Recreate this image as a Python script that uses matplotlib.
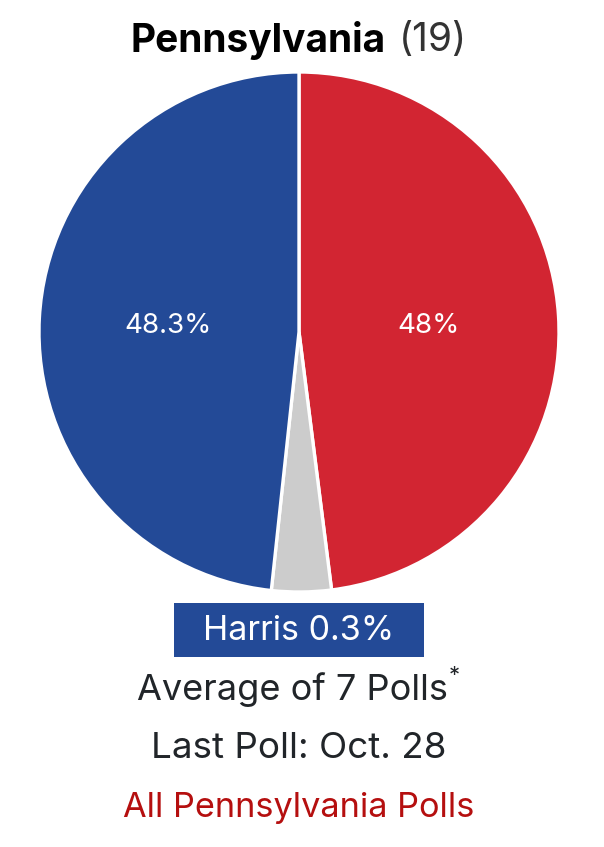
import matplotlib.pyplot as plt
from matplotlib.patches import Rectangle

# poll average shares (%), drawn clockwise from 12 o'clock
candidates = ["Trump", "Other", "Harris"]
shares = [48.0, 3.7, 48.3]
colors = ["#d22532", "#cccccc", "#234a97"]
labels = ["48%", "", "48.3%"]

state = "Pennsylvania"
electoral_votes = 19
leader = "Harris"
margin = 0.3
n_polls = 7
last_poll = "Oct. 28"

plt.rcParams["font.family"] = ["Inter", "DejaVu Sans"]

W, H = 604, 847
fig = plt.figure(figsize=(W / 100, H / 100), dpi=100)


def fx(px):
    return px / W


def fy(py):
    return 1 - py / H


# pie placed by pixel geometry
cx, cy, r = 299, 332, 260
ax = fig.add_axes([fx(cx - r), fy(cy + r), 2 * r / W, 2 * r / H])
wedges, _ = ax.pie(
    shares,
    colors=colors,
    startangle=90,
    counterclock=False,
    radius=1.0,
    wedgeprops=dict(edgecolor="white", linewidth=2.4),
)
for w in wedges:
    w.set_clip_on(False)
ax.set_xlim(-1.0, 1.0)
ax.set_ylim(-1.0, 1.0)
ax.set_aspect("equal")
ax.axis("off")

ax.text(0.50, 0.025, labels[0], color="white", fontsize=20, ha="center", va="center")
ax.text(-0.505, 0.025, labels[2], color="white", fontsize=20, ha="center", va="center")

# title
fig.text(fx(386), fy(40), state, fontsize=28, fontweight="bold", color="black",
         ha="right", va="center")
fig.text(fx(399), fy(40), f"({electoral_votes})", fontsize=28, color="#333333",
         ha="left", va="center")

# leader box
fig.patches.append(Rectangle((fx(174), fy(657)), fx(424) - fx(174), fy(603) - fy(657),
                             transform=fig.transFigure, facecolor="#234a97",
                             edgecolor="none"))
fig.text(fx(299), fy(631), f"{leader} {margin}%", fontsize=24.5, color="white",
         ha="center", va="center")

fig.text(fx(292), fy(690), f"Average of {n_polls} Polls", fontsize=26, color="#212529",
         ha="center", va="center")
fig.text(fx(449), fy(676), "*", fontsize=16, color="#212529", ha="left", va="center")
fig.text(fx(299), fy(748), f"Last Poll: {last_poll}", fontsize=26.5, color="#212529",
         ha="center", va="center")
fig.text(fx(299), fy(808), f"All {state} Polls", fontsize=24.7, color="#b50f0f",
         ha="center", va="center")

fig.savefig("out.png", dpi=100)
